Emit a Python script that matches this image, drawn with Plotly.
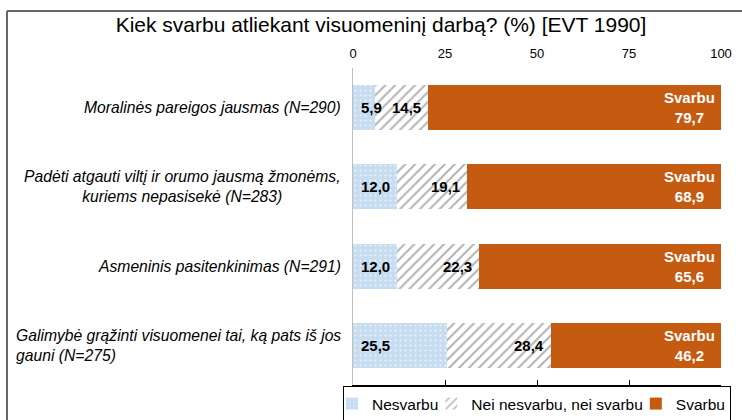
import plotly.graph_objects as go

categories = [
    "Moralinės pareigos jausmas (N=290)",
    "Padėti atgauti viltį ir orumo jausmą žmonėms,<br>kuriems nepasisekė (N=283)",
    "Asmeninis pasitenkinimas (N=291)",
    "Galimybė grąžinti visuomenei tai, ką pats iš jos<br>gauni (N=275)",
]
cat_align = ["right", "center", "right", "left"]
nesvarbu = [5.9, 12.0, 12.0, 25.5]
nei = [14.5, 19.1, 22.3, 28.4]
svarbu = [79.7, 68.9, 65.6, 46.2]
series_names = ["Nesvarbu", "Nei nesvarbu, nei svarbu", "Svarbu"]
tick_vals = [0, 25, 50, 75, 100]

W, H = 742, 420
L, R, T, B = 353, 21, 68, 35
pw, ph = W - L - R, H - T - B

def fmt(v):
    return f"{v:.1f}".replace(".", ",")

ys = list(range(len(categories)))
FONT = "Liberation Sans, Arial, sans-serif"

fig = go.Figure()
fig.add_trace(go.Bar(
    y=ys, x=nesvarbu, orientation="h", name=series_names[0],
    marker=dict(color="#c6dcf0", line=dict(width=0),
                pattern=dict(shape=".", fgcolor="#eef5fc", bgcolor="#c6dcf0",
                             size=5, solidity=0.12, fillmode="replace")),
))
fig.add_trace(go.Bar(
    y=ys, x=nei, orientation="h", name=series_names[1],
    marker=dict(color="#ffffff", line=dict(width=0),
                pattern=dict(shape="/", fgcolor="#b3b3b3", bgcolor="#ffffff",
                             size=7, solidity=0.28, fillmode="replace")),
))
fig.add_trace(go.Bar(
    y=ys, x=svarbu, orientation="h", name=series_names[2],
    marker=dict(color="#c55a11", line=dict(width=0)),
))
# invisible trace for the bottom axis
fig.add_trace(go.Scatter(x=[0, 100], y=[0, 0], xaxis="x2", mode="none",
                         showlegend=False, hoverinfo="skip"))

annotations = []
for i in ys:
    annotations.append(dict(x=0, y=i, xref="x", yref="y", text=f"<b>{fmt(nesvarbu[i])}</b>",
                            xanchor="left", xshift=6, showarrow=False,
                            font=dict(family=FONT, size=15, color="#000000")))
    annotations.append(dict(x=nesvarbu[i] + nei[i], y=i, xref="x", yref="y",
                            text=f"<b>{fmt(nei[i])}</b>", xanchor="right", xshift=-5,
                            showarrow=False,
                            font=dict(family=FONT, size=15, color="#000000")))
    annotations.append(dict(x=100, y=i, xref="x", yref="y",
                            text=f"<b>{series_names[2]}<br>{fmt(svarbu[i])}</b>",
                            xanchor="right", xshift=-4, align="center", showarrow=False,
                            font=dict(family=FONT, size=15, color="#ffffff")))
    annotations.append(dict(x=-10 / pw, y=i, xref="paper", yref="y",
                            text=f"<i>{categories[i]}</i>", xanchor="right",
                            align=cat_align[i], showarrow=False,
                            font=dict(family=FONT, size=15.7, color="#000000")))

shapes = [
    dict(type="line", xref="paper", yref="paper",
         x0=(7 - L) / pw, x1=(W + 5 - L) / pw, y0=(H - B - 11) / ph, y1=(H - B - 11) / ph,
         line=dict(color="#666666", width=2)),
    dict(type="line", xref="paper", yref="paper",
         x0=(7 - L) / pw, x1=(7 - L) / pw, y0=(H - B - 11) / ph, y1=-0.2,
         line=dict(color="#666666", width=2)),
]

fig.update_layout(
    width=W, height=H,
    margin=dict(l=L, r=R, t=T, b=B, autoexpand=False),
    barmode="stack", bargap=0.43,
    paper_bgcolor="#ffffff", plot_bgcolor="#ffffff",
    font=dict(family=FONT, size=12, color="#000000"),
    title=dict(text="Kiek svarbu atliekant visuomeninį darbą? (%) [EVT 1990]",
               x=381 / W, xanchor="center", y=1 - 25 / H, yanchor="middle",
               font=dict(family=FONT, size=21, color="#000000")),
    xaxis=dict(range=[0, 100], side="top", tickvals=tick_vals, showline=False,
               showgrid=False, zeroline=False, ticks="", tickfont=dict(size=13),
               ticklabelstandoff=6, fixedrange=True),
    xaxis2=dict(range=[0, 100], overlaying="x", side="bottom", tickvals=tick_vals,
                showticklabels=False, showline=True, linecolor="#000000", linewidth=1,
                ticks="inside", ticklen=5, tickcolor="#000000", showgrid=False,
                zeroline=False, anchor="y"),
    yaxis=dict(range=[len(categories) - 0.5, -0.5], showticklabels=False,
               showline=True, linecolor="#bfbfbf", linewidth=1, showgrid=False,
               zeroline=False, ticks=""),
    legend=dict(orientation="h", x=(343 - L) / pw, xanchor="left",
                y=-1 / ph, yanchor="top", bordercolor="#000000", borderwidth=1,
                font=dict(family=FONT, size=15.5), traceorder="normal",
                itemwidth=30, indentation=-12, bgcolor="#ffffff"),
    annotations=annotations,
    shapes=shapes,
    showlegend=True,
)

fig.write_html("out.html", config={"displayModeBar": False},
               post_script="document.body.style.margin='0';")
